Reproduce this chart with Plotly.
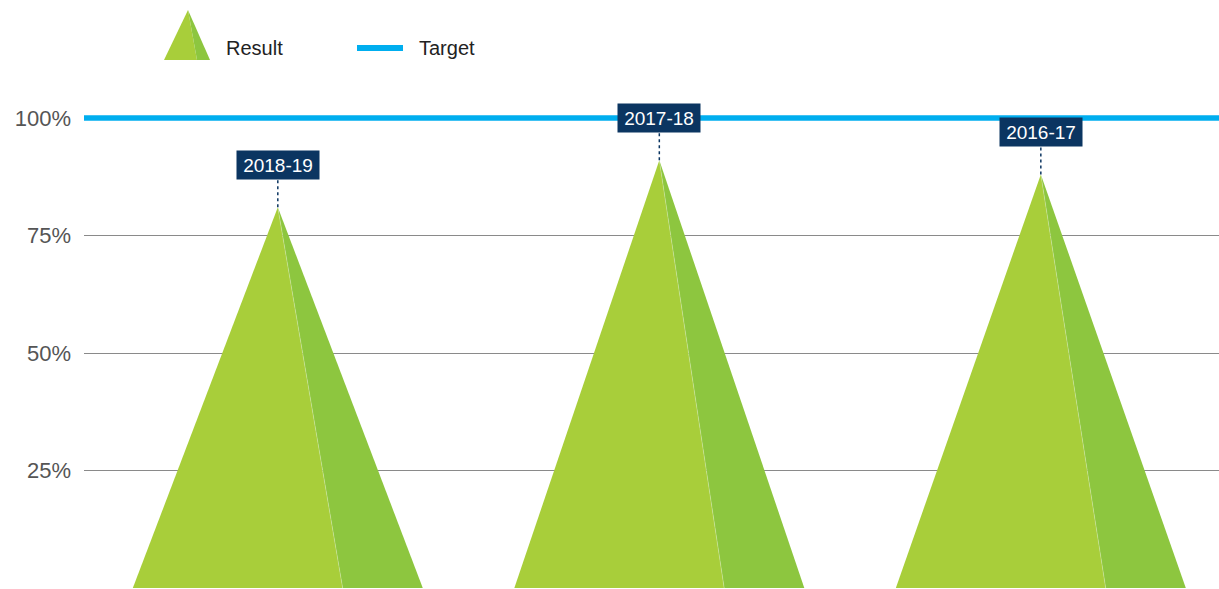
import plotly.graph_objects as go

# ---- data ----
periods = ["2018-19", "2017-18", "2016-17"]
results = [0.81, 0.91, 0.88]
target = 1.0
tick_vals = [0.25, 0.50, 0.75, 1.00]
tick_text = ["25%", "50%", "75%", "100%"]

# ---- style ----
W, H = 1219, 589
ML, MR, MT, MB = 84, 0, 0, 1
PW, PH = W - ML - MR, H - MT - MB
LIGHT = "#A8CE3A"
DARK = "#8DC63F"
NAVY = "#0B3561"
BLUE = "#00AEEF"
FONT = "Liberation Sans, Arial, sans-serif"
HALF = 0.38     # half base width in category units
SPLIT = 0.17    # offset of the face split at the base

fig = go.Figure()

for i, (p, v) in enumerate(zip(periods, results)):
    fig.add_trace(go.Scatter(
        x=[i - HALF, i, i + SPLIT, i - HALF], y=[0, v, 0, 0],
        fill="toself", fillcolor=LIGHT, mode="lines",
        line=dict(width=0, color=LIGHT), hoverinfo="skip", showlegend=False))
    fig.add_trace(go.Scatter(
        x=[i + SPLIT, i, i + HALF, i + SPLIT], y=[0, v, 0, 0],
        fill="toself", fillcolor=DARK, mode="lines",
        line=dict(width=0, color=DARK), hoverinfo="skip", showlegend=False))
    fig.add_trace(go.Scatter(
        x=[i, i + SPLIT], y=[v, 0], mode="lines",
        line=dict(width=0.7, color="rgba(255,255,255,0.35)"),
        hoverinfo="skip", showlegend=False))
    fig.add_shape(type="line", xref="x", yref="y", ysizemode="pixel",
                  yanchor=v, x0=i, x1=i, y0=0, y1=28,
                  line=dict(color=NAVY, width=1.5, dash="dot"))
    fig.add_annotation(x=i, y=v, xref="x", yref="y", text=p, showarrow=False,
                       yshift=42, bgcolor=NAVY, borderpad=3, width=76, height=22,
                       font=dict(family=FONT, size=19, color="white"))

fig.add_shape(type="line", xref="paper", yref="y", x0=0, x1=1, y0=target, y1=target,
              line=dict(color=BLUE, width=5.5), layer="above")


def px_x(px):
    return (px - ML) / PW


def px_y(py):
    return 1 - (py - MT) / PH


ax, ay = px_x(188), px_y(10)
lx, rx, sx = px_x(164), px_x(210), px_x(197)
by = px_y(60)
fig.add_shape(type="path", xref="paper", yref="paper",
              path=f"M {lx} {by} L {ax} {ay} L {sx} {by} Z",
              fillcolor=LIGHT, line=dict(width=0))
fig.add_shape(type="path", xref="paper", yref="paper",
              path=f"M {sx} {by} L {ax} {ay} L {rx} {by} Z",
              fillcolor=DARK, line=dict(width=0))
fig.add_annotation(xref="paper", yref="paper", x=px_x(224), y=px_y(48),
                   xanchor="left", yanchor="middle", showarrow=False, text="Result",
                   font=dict(family=FONT, size=20, color="#222222"))
fig.add_shape(type="line", xref="paper", yref="paper",
              x0=px_x(357), x1=px_x(403), y0=px_y(48), y1=px_y(48),
              line=dict(color=BLUE, width=6))
fig.add_annotation(xref="paper", yref="paper", x=px_x(417), y=px_y(48),
                   xanchor="left", yanchor="middle", showarrow=False, text="Target",
                   font=dict(family=FONT, size=20, color="#222222"))

fig.update_layout(
    width=W, height=H,
    margin=dict(l=ML, r=MR, t=MT, b=MB),
    paper_bgcolor="white", plot_bgcolor="white",
    showlegend=False,
    xaxis=dict(range=[-0.508, 2.467], visible=False, fixedrange=True),
    yaxis=dict(range=[0, PH / 470.0], tickvals=tick_vals, ticktext=tick_text,
               showgrid=True, gridcolor="#8a8a8a", gridwidth=1, zeroline=False,
               showline=False, ticks="", ticklabelstandoff=12,
               tickfont=dict(family=FONT, size=22, color="#555555"), fixedrange=True),
)

fig.write_html("out.html", config={"displayModeBar": False})

with open("out.html", "r", encoding="utf-8") as f:
    html = f.read()
html = html.replace("<body>", '<body style="margin:0;padding:0;overflow:hidden">', 1)
with open("out.html", "w", encoding="utf-8") as f:
    f.write(html)
